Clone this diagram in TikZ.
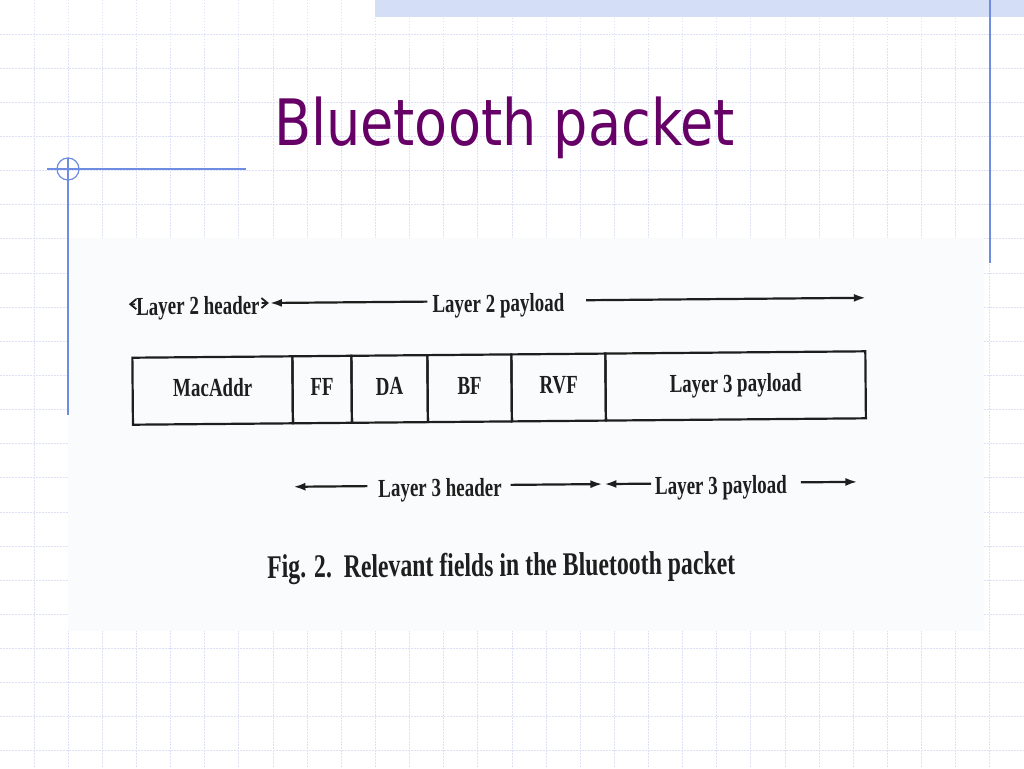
\documentclass[tikz,border=0pt]{standalone}
\usepackage{fontspec}
\setmainfont{Liberation Serif}
\newfontfamily\titlefont{DejaVu Sans}
\newfontfamily\scanfont{Liberation Serif}
\usetikzlibrary{arrows.meta}
\definecolor{gridc}{RGB}{222,225,246}
\definecolor{decoc}{RGB}{110,140,225}
\definecolor{barc}{RGB}{212,222,246}
\definecolor{scanbg}{RGB}{249,251,252}
\definecolor{titlec}{RGB}{102,0,102}
\definecolor{ink}{RGB}{30,30,30}
\newcommand{\sqz}[1]{\scalebox{0.73}[1]{#1}}
\newcommand{\sqzc}[1]{\scalebox{0.72}[1]{#1}}
\begin{document}
\begin{tikzpicture}[x=1pt,y=-1pt,
  lbl/.style={font=\scanfont\bfseries\fontsize{26}{28}\selectfont, text=ink, inner sep=0pt, outer sep=0pt,
              text height=22pt, text depth=0pt, anchor=base},
  field/.style={draw=ink, line width=2.2pt, minimum height=67pt, inner sep=0pt, outer sep=0pt,
                anchor=north west, font=\scanfont\bfseries\fontsize{26}{28}\selectfont, text=ink,
                text height=18pt, text depth=6pt},
  arr/.style={draw=ink, line width=2.2pt, -{Latex[length=12pt,width=8pt]}},
  barb/.style={draw=ink, line width=1.8pt, -{Straight Barb[length=6pt,width=10pt]}},
  gridline/.style={draw=gridc, line width=1pt, dash pattern=on 1.5pt off 1.5pt},
  deco/.style={draw=decoc, line width=1.2pt},
]
\useasboundingbox (0,0) rectangle (1024,768);
\fill[white] (0,0) rectangle (1024,768);

% background grid
\foreach \i in {1,...,29} {\draw[gridline] (\i*34.133,0) -- (\i*34.133,768);}
\foreach \j in {1,...,22} {\draw[gridline] (0,\j*34.133) -- (1024,\j*34.133);}

% top bar
\fill[barc] (375,0) rectangle (1024,17);

% scanned area
\fill[scanbg] (68,238) rectangle (984,631);

% decorations
\draw[deco] (47,169) -- (246,169);
\draw[deco] (68,169) circle (11pt);
\draw[deco] (68,158) -- (68,415);
\draw[deco] (990,0) -- (990,263);

% title
\node[font=\titlefont\fontsize{64}{70}\selectfont, text=titlec, inner sep=0pt, anchor=base]
  (title) at (504.5,145) {\scalebox{0.845}[1]{Bluetooth packet}};

\begin{scope}[rotate around={0.5:(500,430)}, transform shape]
  % row 1
  \node[lbl] (l2h) at (199,312) {\sqz{Layer 2 header}};
  \node[lbl] (l2p) at (499.5,312) {\sqz{Layer 2 payload}};
  \coordinate (a1l) at (130,301);
  \coordinate (a1m) at (270,301);
  \coordinate (a1n) at (271,301);
  \coordinate (a1r) at (867,301);
  \draw[barb] ([xshift=-1pt]l2h.west) -- (a1l);
  \draw[barb] ([xshift=2pt]l2h.east) -- (a1m);
  \draw[arr] ([xshift=-5pt]l2p.west) -- (a1n);
  \draw[arr] ([xshift=22pt]l2p.east) -- (a1r);

  % packet fields
  \node[field, minimum width=160pt] (mac) at (133,354.5) {\sqz{MacAddr}};
  \node[field, minimum width=59pt]  (ff)  at (293,354.5) {\sqz{FF}};
  \node[field, minimum width=76pt]  (da)  at (352,354.5) {\sqz{DA}};
  \node[field, minimum width=84pt]  (bf)  at (428,354.5) {\sqz{BF}};
  \node[field, minimum width=94pt]  (rvf) at (512,354.5) {\sqz{RVF}};
  \node[field, minimum width=260pt] (l3pl) at (606,354.5) {\sqz{Layer 3 payload}};

  % row 3
  \node[lbl] (l3h) at (439.5,496) {\sqz{Layer 3 header}};
  \node[lbl] (l3p) at (720.5,496) {\sqz{Layer 3 payload}};
  \coordinate (a3l) at (293,485);
  \coordinate (a3m) at (602,485);
  \coordinate (a3n) at (604,485);
  \coordinate (a3r) at (857,485);
  \draw[arr] ([xshift=-11pt]l3h.west) -- (a3l);
  \draw[arr] ([xshift=9pt]l3h.east) -- (a3m);
  \draw[arr] ([xshift=-4pt]l3p.west) -- (a3n);
  \draw[arr] ([xshift=14pt]l3p.east) -- (a3r);

  % caption
  \node[font=\scanfont\bfseries\fontsize{33}{36}\selectfont, text=ink, inner sep=0pt, anchor=base]
    (cap) at (500,576) {\sqzc{Fig. 2.\ \ Relevant fields in the Bluetooth packet}};
\end{scope}
\end{tikzpicture}
\end{document}
